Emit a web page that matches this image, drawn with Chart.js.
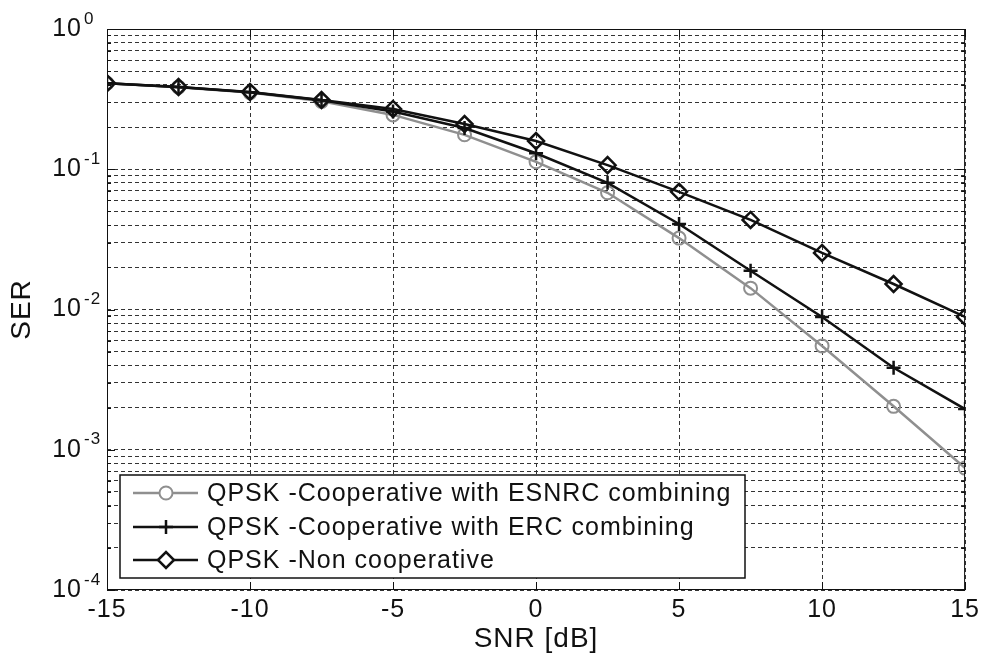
<!DOCTYPE html>
<html>
<head>
<meta charset="utf-8">
<script src="https://cdn.jsdelivr.net/npm/chart.js@4.4.1/dist/chart.umd.min.js"></script>
<style>
  body { margin: 0; background: #fff; }
  #wrap { width: 984px; height: 653px; position: relative; }
</style>
</head>
<body>
<div id="wrap"><canvas id="serChart"></canvas></div>
<script>
const snr = [-15, -12.5, -10, -7.5, -5, -2.5, 0, 2.5, 5, 7.5, 10, 12.5, 15];
const serEsnrc = [0.41, 0.385, 0.352, 0.305, 0.244, 0.176, 0.113, 0.068, 0.0323, 0.0142, 0.0055, 0.00204, 0.00074];
const serErc = [0.41, 0.386, 0.354, 0.31, 0.258, 0.197, 0.13, 0.080, 0.0407, 0.0189, 0.00885, 0.00384, 0.00195];
const serNonCoop = [0.41, 0.386, 0.356, 0.312, 0.269, 0.21, 0.159, 0.107, 0.069, 0.0435, 0.0253, 0.0152, 0.00885];

const seriesLabels = [
    'QPSK -Cooperative with ESNRC combining',
    'QPSK -Cooperative with ERC combining',
    'QPSK -Non cooperative'
];
const xTicks = [-15, -10, -5, 0, 5, 10, 15];
const yExponents = [0, -1, -2, -3, -4];
const yMinorSteps = [2, 3, 4, 5, 6, 7, 8, 9];

const FONT = "'Liberation Sans', Arial, sans-serif";
const gray = '#8f8f8f';

// all tick values on the log axis: decades plus 2..9 in between
const yTickValues = [];
yExponents.forEach(e => {
    yTickValues.push(Math.pow(10, e));
    if (e > -4) yMinorSteps.forEach(s => yTickValues.push(s * Math.pow(10, e - 1)));
});

const toPoints = arr => arr.map((v, i) => ({ x: snr[i], y: v }));

// frame, MATLAB style inner ticks, superscript y labels and the legend box
const matlabPlugin = {
    id: 'matlab',
    beforeDraw(chart) {
        chart.ctx.letterSpacing = '1px';
    },
    afterDraw(chart) {
        const { ctx, chartArea: a, scales: { x, y } } = chart;
        ctx.save();
        ctx.strokeStyle = '#111';
        ctx.lineWidth = 1;
        ctx.setLineDash([]);
        ctx.strokeRect(a.left + 0.5, a.top + 0.5, a.right - a.left - 1, a.bottom - a.top - 1);

        ctx.beginPath();
        xTicks.forEach(t => {
            const px = Math.round(x.getPixelForValue(t)) + 0.5;
            ctx.moveTo(px, a.bottom); ctx.lineTo(px, a.bottom - 8);
            ctx.moveTo(px, a.top); ctx.lineTo(px, a.top + 8);
        });
        yTickValues.forEach(v => {
            const py = Math.round(y.getPixelForValue(v)) + 0.5;
            const len = Number.isInteger(Math.log10(v)) ? 8 : 4;
            ctx.moveTo(a.left, py); ctx.lineTo(a.left + len, py);
            ctx.moveTo(a.right, py); ctx.lineTo(a.right - len, py);
        });
        ctx.stroke();

        // y labels: 10 with superscript exponent
        ctx.fillStyle = '#111';
        ctx.textBaseline = 'middle';
        yExponents.forEach(e => {
            const py = y.getPixelForValue(Math.pow(10, e));
            ctx.font = `25px ${FONT}`;
            ctx.textAlign = 'right';
            ctx.fillText('10', 82, py);
            ctx.font = `17px ${FONT}`;
            ctx.textAlign = 'left';
            ctx.fillText(String(e), 84, py - 10);
        });

        // legend
        const box = { left: 120, top: 475, right: 745, bottom: 578 };
        ctx.fillStyle = '#fff';
        ctx.fillRect(box.left, box.top, box.right - box.left, box.bottom - box.top);
        ctx.strokeStyle = '#111';
        ctx.lineWidth = 1.5;
        ctx.strokeRect(box.left, box.top, box.right - box.left, box.bottom - box.top);

        const rows = [493, 527, 560];
        chart.data.datasets.forEach((ds, i) => {
            const yy = rows[i];
            ctx.strokeStyle = ds.borderColor;
            ctx.lineWidth = ds.borderWidth;
            ctx.beginPath();
            ctx.moveTo(133, yy); ctx.lineTo(198, yy);
            ctx.stroke();
            ctx.fillStyle = '#fff';
            ctx.strokeStyle = ds.pointBorderColor;
            ctx.lineWidth = ds.pointBorderWidth;
            Chart.helpers.drawPoint(ctx, {
                pointStyle: ds.pointStyle,
                radius: ds.pointRadius,
                rotation: 0,
                borderWidth: ds.pointBorderWidth
            }, 166, yy);
            ctx.fillStyle = '#111';
            ctx.font = `25px ${FONT}`;
            ctx.textAlign = 'left';
            ctx.textBaseline = 'middle';
            ctx.fillText(seriesLabels[i], 207, yy + 1);
        });
        ctx.restore();
    }
};

const gridStyle = {
    color: '#333',
    lineWidth: 1,
    drawTicks: false
};
const gridBorder = { display: false, dash: [4, 3] };

new Chart(document.getElementById('serChart'), {
    type: 'line',
    data: {
        datasets: [
            {
                label: seriesLabels[0],
                data: toPoints(serEsnrc),
                borderColor: gray,
                borderWidth: 2.5,
                pointStyle: 'circle',
                pointRadius: 6.5,
                pointBorderColor: gray,
                pointBorderWidth: 2,
                pointBackgroundColor: 'rgba(0,0,0,0)',
                order: 2
            },
            {
                label: seriesLabels[1],
                data: toPoints(serErc),
                borderColor: '#111',
                borderWidth: 2.5,
                pointStyle: 'cross',
                pointRadius: 7,
                pointBorderColor: '#111',
                pointBorderWidth: 2.5,
                order: 1
            },
            {
                label: seriesLabels[2],
                data: toPoints(serNonCoop),
                borderColor: '#111',
                borderWidth: 2.5,
                pointStyle: 'rectRot',
                pointRadius: 8,
                pointBorderColor: '#111',
                pointBorderWidth: 2.5,
                pointBackgroundColor: 'rgba(0,0,0,0)',
                order: 0
            }
        ]
    },
    options: {
        responsive: true,
        maintainAspectRatio: false,
        animation: false,
        layout: { padding: { top: 29, right: 18, left: 0, bottom: 0 } },
        plugins: {
            legend: { display: false },
            tooltip: { enabled: false }
        },
        scales: {
            x: {
                type: 'linear',
                min: -15,
                max: 15,
                afterBuildTicks: s => { s.ticks = xTicks.map(v => ({ value: v })); },
                afterFit: s => { s.height = 63; },
                ticks: {
                    color: '#111',
                    padding: 5,
                    font: { family: FONT, size: 25 }
                },
                grid: gridStyle,
                border: gridBorder,
                title: {
                    display: true,
                    text: 'SNR [dB]',
                    color: '#111',
                    font: { family: FONT, size: 28, lineHeight: 1 },
                    padding: { top: 0, bottom: 0 }
                }
            },
            y: {
                type: 'logarithmic',
                min: 1e-4,
                max: 1,
                afterBuildTicks: s => { s.ticks = yTickValues.map(v => ({ value: v })); },
                afterFit: s => { s.width = 107; },
                ticks: { display: false },
                grid: gridStyle,
                border: gridBorder,
                title: {
                    display: true,
                    text: 'SER',
                    color: '#111',
                    font: { family: FONT, size: 28, lineHeight: 1 },
                    padding: { top: 8, bottom: 0 }
                }
            }
        }
    },
    plugins: [matlabPlugin]
});
</script>
</body>
</html>
